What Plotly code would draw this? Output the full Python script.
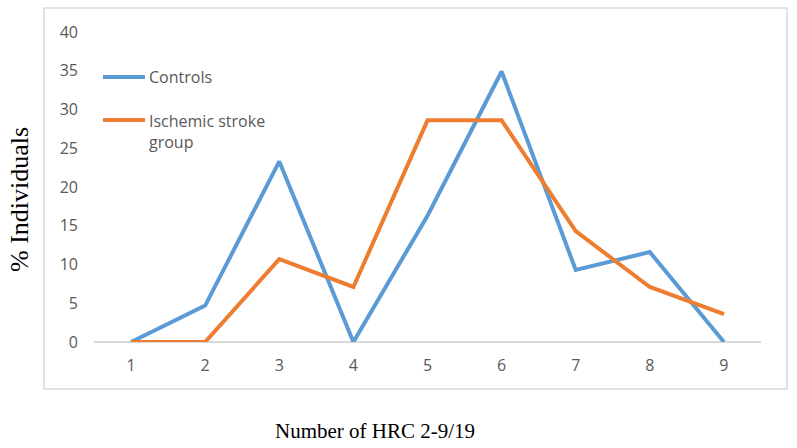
import plotly.graph_objects as go

categories = [1, 2, 3, 4, 5, 6, 7, 8, 9]
controls = [0, 4.7, 23.3, 0, 16.3, 34.9, 9.3, 11.6, 0]
ischemic = [0, 0, 10.7, 7.1, 28.6, 28.6, 14.3, 7.1, 3.6]
y_ticks = [0, 5, 10, 15, 20, 25, 30, 35, 40]

BLUE = "#5B9BD5"
ORANGE = "#ED7D31"
GRAY = "#595959"

fig = go.Figure()
fig.add_trace(go.Scatter(x=categories, y=controls, mode="lines", name="Controls",
                         line=dict(color=BLUE, width=4)))
fig.add_trace(go.Scatter(x=categories, y=ischemic, mode="lines", name="Ischemic stroke group",
                         line=dict(color=ORANGE, width=4)))

W, H = 797, 448
L, R, T, B = 94, 36, 32, 106
pw = W - L - R
ph = H - T - B

def px_x(p):
    return (p - L) / pw

def px_y(p):
    return (H - B - p) / ph

fig.update_layout(
    width=W, height=H,
    margin=dict(l=L, r=R, t=T, b=B),
    paper_bgcolor="white", plot_bgcolor="white",
    showlegend=False,
    font=dict(family="Open Sans, sans-serif", color=GRAY, size=16),
    xaxis=dict(range=[0.5, 9.5], tickvals=categories, showgrid=False, zeroline=False,
               showline=False, ticks="", tickfont=dict(size=16, color=GRAY),
               ticklabelstandoff=12),
    yaxis=dict(range=[0, 40], tickvals=y_ticks, showgrid=False, zeroline=True,
               zerolinecolor="#D9D9D9", zerolinewidth=1.5, showline=False, ticks="",
               tickfont=dict(size=16, color=GRAY), ticklabelstandoff=15),
)

# outer chart border
fig.add_shape(type="rect", xref="paper", yref="paper",
              x0=px_x(44), x1=px_x(787), y0=px_y(389), y1=px_y(8),
              line=dict(color="#D9D9D9", width=1.5), layer="below")

# legend (inside the plot, manual)
fig.add_shape(type="line", xref="paper", yref="paper",
              x0=px_x(103), x1=px_x(145), y0=px_y(77), y1=px_y(77),
              line=dict(color=BLUE, width=4))
fig.add_shape(type="line", xref="paper", yref="paper",
              x0=px_x(103), x1=px_x(145), y0=px_y(120), y1=px_y(120),
              line=dict(color=ORANGE, width=4))
fig.add_annotation(xref="paper", yref="paper", x=px_x(147), y=px_y(77),
                   text="Controls", showarrow=False, xanchor="left", yanchor="middle",
                   font=dict(size=16, color=GRAY))
fig.add_annotation(xref="paper", yref="paper", x=px_x(147), y=px_y(108),
                   text="Ischemic stroke<br>group", showarrow=False, xanchor="left",
                   yanchor="top", align="left", font=dict(size=16, color=GRAY))

# axis titles
fig.add_annotation(xref="paper", yref="paper", x=px_x(19), y=px_y(200),
                   text="% Individuals", showarrow=False, textangle=-90,
                   xanchor="center", yanchor="middle",
                   font=dict(family="Liberation Serif, Times New Roman, serif", size=26, color="black"))
fig.add_annotation(xref="paper", yref="paper", x=px_x(375), y=px_y(431),
                   text="Number of HRC 2-9/19", showarrow=False,
                   xanchor="center", yanchor="middle",
                   font=dict(family="Liberation Serif, Times New Roman, serif", size=21, color="black"))

fig.write_html("out.html", config={"displayModeBar": False},
               post_script="document.body.style.margin='0';document.body.style.padding='0';")
